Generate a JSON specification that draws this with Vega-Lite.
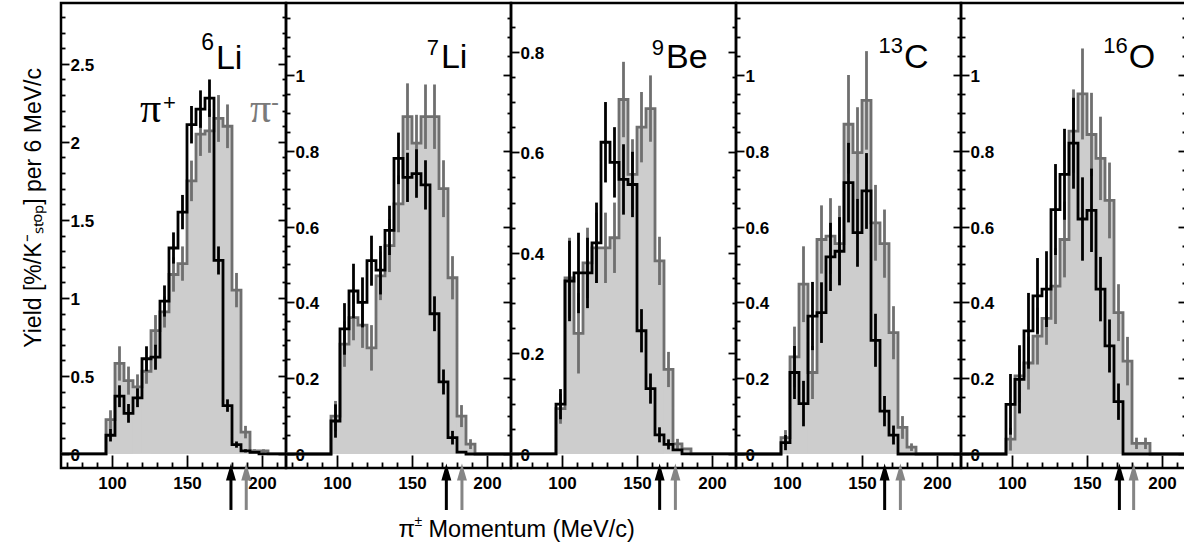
{
"$schema": "https://vega.github.io/schema/vega-lite/v6.json",
"background": "white",
"padding": {"left": 21, "top": 1, "right": 0, "bottom": 0},
"spacing": 0,
"bounds": "flush",
"config": {
  "view": {"stroke": "#000000", "strokeWidth": 2.5},
  "axis": {"domain": false, "grid": false, "tickColor": "#000000", "tickWidth": 1.8, "labelFont": "Liberation Sans", "labelFontWeight": "bold", "labelFontSize": 17, "labelColor": "#000000", "titleFont": "Liberation Sans", "titleFontWeight": "normal", "titleColor": "#000000"},
  "text": {"font": "Liberation Sans"}
},
"datasets": {
"h": [
{"n":"6Li","p":57,"m":0,"me":0,"pl":0,"ple":0},
{"n":"6Li","p":93,"m":0,"me":0,"pl":0,"ple":0},
{"n":"6Li","p":99,"m":0.22,"me":0.06,"pl":0.12,"ple":0.04},
{"n":"6Li","p":105,"m":0.58,"me":0.11,"pl":0.37,"ple":0.07},
{"n":"6Li","p":111,"m":0.47,"me":0.09,"pl":0.26,"ple":0.06},
{"n":"6Li","p":117,"m":0.43,"me":0.08,"pl":0.36,"ple":0.06},
{"n":"6Li","p":123,"m":0.53,"me":0.08,"pl":0.61,"ple":0.08},
{"n":"6Li","p":129,"m":0.79,"me":0.1,"pl":0.62,"ple":0.08},
{"n":"6Li","p":135,"m":0.91,"me":0.1,"pl":0.98,"ple":0.1},
{"n":"6Li","p":141,"m":1.15,"me":0.11,"pl":1.32,"ple":0.1},
{"n":"6Li","p":147,"m":1.22,"me":0.11,"pl":1.55,"ple":0.11},
{"n":"6Li","p":153,"m":1.75,"me":0.13,"pl":2.11,"ple":0.12},
{"n":"6Li","p":159,"m":2.05,"me":0.14,"pl":2.21,"ple":0.12},
{"n":"6Li","p":165,"m":2.07,"me":0.14,"pl":2.28,"ple":0.12},
{"n":"6Li","p":171,"m":2.15,"me":0.15,"pl":1.24,"ple":0.09},
{"n":"6Li","p":177,"m":2.1,"me":0.14,"pl":0.31,"ple":0.04},
{"n":"6Li","p":183,"m":1.05,"me":0.11,"pl":0.06,"ple":0.02},
{"n":"6Li","p":189,"m":0.14,"me":0.04,"pl":0.02,"ple":0.01},
{"n":"6Li","p":195,"m":0.02,"me":0.01,"pl":0.01,"ple":0},
{"n":"6Li","p":201,"m":0.02,"me":0.01,"pl":0,"ple":0},
{"n":"6Li","p":207,"m":0,"me":0,"pl":0,"ple":0},
{"n":"6Li","p":225,"m":0,"me":0,"pl":0,"ple":0},
{"n":"7Li","p":57,"m":0,"me":0,"pl":0,"ple":0},
{"n":"7Li","p":93,"m":0,"me":0,"pl":0,"ple":0},
{"n":"7Li","p":99,"m":0.1,"me":0.04,"pl":0.087,"ple":0.044},
{"n":"7Li","p":105,"m":0.29,"me":0.06,"pl":0.33,"ple":0.068},
{"n":"7Li","p":111,"m":0.36,"me":0.06,"pl":0.43,"ple":0.072},
{"n":"7Li","p":117,"m":0.34,"me":0.06,"pl":0.4,"ple":0.066},
{"n":"7Li","p":123,"m":0.28,"me":0.06,"pl":0.51,"ple":0.066},
{"n":"7Li","p":129,"m":0.47,"me":0.064,"pl":0.485,"ple":0.064},
{"n":"7Li","p":135,"m":0.55,"me":0.07,"pl":0.59,"ple":0.065},
{"n":"7Li","p":141,"m":0.66,"me":0.075,"pl":0.78,"ple":0.068},
{"n":"7Li","p":147,"m":0.89,"me":0.088,"pl":0.73,"ple":0.065},
{"n":"7Li","p":153,"m":0.82,"me":0.075,"pl":0.74,"ple":0.064},
{"n":"7Li","p":159,"m":0.89,"me":0.085,"pl":0.71,"ple":0.065},
{"n":"7Li","p":165,"m":0.89,"me":0.085,"pl":0.37,"ple":0.046},
{"n":"7Li","p":171,"m":0.7,"me":0.075,"pl":0.19,"ple":0.033},
{"n":"7Li","p":177,"m":0.465,"me":0.057,"pl":0.043,"ple":0.018},
{"n":"7Li","p":183,"m":0.1,"me":0.029,"pl":0.005,"ple":0},
{"n":"7Li","p":189,"m":0.026,"me":0.013,"pl":0,"ple":0},
{"n":"7Li","p":195,"m":0,"me":0,"pl":0,"ple":0},
{"n":"7Li","p":225,"m":0,"me":0,"pl":0,"ple":0},
{"n":"9Be","p":57,"m":0,"me":0,"pl":0,"ple":0},
{"n":"9Be","p":93,"m":0,"me":0,"pl":0,"ple":0},
{"n":"9Be","p":99,"m":0.09,"me":0.03,"pl":0.099,"ple":0.03},
{"n":"9Be","p":105,"m":0.35,"me":0.08,"pl":0.344,"ple":0.08},
{"n":"9Be","p":111,"m":0.24,"me":0.08,"pl":0.36,"ple":0.08},
{"n":"9Be","p":117,"m":0.38,"me":0.07,"pl":0.36,"ple":0.07},
{"n":"9Be","p":123,"m":0.41,"me":0.07,"pl":0.42,"ple":0.08},
{"n":"9Be","p":129,"m":0.41,"me":0.07,"pl":0.62,"ple":0.08},
{"n":"9Be","p":135,"m":0.43,"me":0.07,"pl":0.58,"ple":0.07},
{"n":"9Be","p":141,"m":0.705,"me":0.075,"pl":0.546,"ple":0.07},
{"n":"9Be","p":147,"m":0.556,"me":0.07,"pl":0.536,"ple":0.065},
{"n":"9Be","p":153,"m":0.65,"me":0.07,"pl":0.245,"ple":0.043},
{"n":"9Be","p":159,"m":0.687,"me":0.066,"pl":0.13,"ple":0.03},
{"n":"9Be","p":165,"m":0.384,"me":0.048,"pl":0.038,"ple":0.015},
{"n":"9Be","p":171,"m":0.168,"me":0.035,"pl":0.019,"ple":0.01},
{"n":"9Be","p":177,"m":0.02,"me":0.01,"pl":0.008,"ple":0},
{"n":"9Be","p":183,"m":0.01,"me":0,"pl":0,"ple":0},
{"n":"9Be","p":189,"m":0,"me":0,"pl":0,"ple":0},
{"n":"9Be","p":225,"m":0,"me":0,"pl":0,"ple":0},
{"n":"13C","p":57,"m":0,"me":0,"pl":0,"ple":0},
{"n":"13C","p":93,"m":0,"me":0,"pl":0,"ple":0},
{"n":"13C","p":99,"m":0.043,"me":0.02,"pl":0.03,"ple":0.02},
{"n":"13C","p":105,"m":0.256,"me":0.08,"pl":0.215,"ple":0.07},
{"n":"13C","p":111,"m":0.448,"me":0.1,"pl":0.133,"ple":0.06},
{"n":"13C","p":117,"m":0.215,"me":0.07,"pl":0.364,"ple":0.09},
{"n":"13C","p":123,"m":0.566,"me":0.09,"pl":0.373,"ple":0.08},
{"n":"13C","p":129,"m":0.575,"me":0.1,"pl":0.52,"ple":0.09},
{"n":"13C","p":135,"m":0.555,"me":0.1,"pl":0.535,"ple":0.09},
{"n":"13C","p":141,"m":0.87,"me":0.13,"pl":0.716,"ple":0.105},
{"n":"13C","p":147,"m":0.795,"me":0.12,"pl":0.584,"ple":0.09},
{"n":"13C","p":153,"m":0.933,"me":0.13,"pl":0.694,"ple":0.1},
{"n":"13C","p":159,"m":0.61,"me":0.1,"pl":0.3,"ple":0.07},
{"n":"13C","p":165,"m":0.555,"me":0.09,"pl":0.113,"ple":0.04},
{"n":"13C","p":171,"m":0.32,"me":0.07,"pl":0.05,"ple":0.025},
{"n":"13C","p":177,"m":0.07,"me":0.03,"pl":0,"ple":0},
{"n":"13C","p":183,"m":0.018,"me":0.01,"pl":0,"ple":0},
{"n":"13C","p":189,"m":0,"me":0,"pl":0,"ple":0},
{"n":"13C","p":225,"m":0,"me":0,"pl":0,"ple":0},
{"n":"16O","p":57,"m":0,"me":0,"pl":0,"ple":0},
{"n":"16O","p":93,"m":0,"me":0,"pl":0,"ple":0},
{"n":"16O","p":99,"m":0.039,"me":0.03,"pl":0.131,"ple":0.08},
{"n":"16O","p":105,"m":0.206,"me":0.07,"pl":0.197,"ple":0.09},
{"n":"16O","p":111,"m":0.24,"me":0.07,"pl":0.325,"ple":0.1},
{"n":"16O","p":117,"m":0.311,"me":0.075,"pl":0.417,"ple":0.1},
{"n":"16O","p":123,"m":0.358,"me":0.07,"pl":0.435,"ple":0.1},
{"n":"16O","p":129,"m":0.443,"me":0.1,"pl":0.645,"ple":0.12},
{"n":"16O","p":135,"m":0.566,"me":0.1,"pl":0.738,"ple":0.12},
{"n":"16O","p":141,"m":0.852,"me":0.11,"pl":0.82,"ple":0.12},
{"n":"16O","p":147,"m":0.95,"me":0.12,"pl":0.62,"ple":0.11},
{"n":"16O","p":153,"m":0.843,"me":0.11,"pl":0.643,"ple":0.11},
{"n":"16O","p":159,"m":0.78,"me":0.11,"pl":0.435,"ple":0.085},
{"n":"16O","p":165,"m":0.669,"me":0.1,"pl":0.285,"ple":0.07},
{"n":"16O","p":171,"m":0.373,"me":0.075,"pl":0.138,"ple":0.048},
{"n":"16O","p":177,"m":0.245,"me":0.064,"pl":0,"ple":0},
{"n":"16O","p":183,"m":0.028,"me":0.015,"pl":0,"ple":0},
{"n":"16O","p":189,"m":0.028,"me":0.015,"pl":0,"ple":0},
{"n":"16O","p":195,"m":0,"me":0,"pl":0,"ple":0},
{"n":"16O","p":225,"m":0,"me":0,"pl":0,"ple":0}
],
"arr": [
{"n":"6Li","s":"+","p":179.3},{"n":"6Li","s":"-","p":189.5},
{"n":"7Li","s":"+","p":172.9},{"n":"7Li","s":"-","p":183.3},
{"n":"9Be","s":"+","p":165.1},{"n":"9Be","s":"-","p":175.6},
{"n":"13C","s":"+","p":165.1},{"n":"13C","s":"-","p":175.6},
{"n":"16O","s":"+","p":171.6},{"n":"16O","s":"-","p":181.1}
]
},
"hconcat": [
{
"width": 225, "height": 465,
"resolve": {"axis": {"x": "independent", "y": "independent"}},
"layer": [
{"data": {"name": "h"}, "transform": [{"filter": "datum.n === '6Li'"}],
 "mark": {"type": "rect", "color": "#cdcdcd", "clip": true, "xOffset": -4.6, "x2Offset": 4.6},
 "encoding": {
  "x": {"field": "p", "type": "quantitative", "scale": {"domain": [66, 216], "nice": false, "zero": false},
   "axis": {"orient": "bottom", "values": [70,80,90,100,110,120,130,140,150,160,170,180,190,200,210], "labelExpr": "datum.value % 50 === 0 ? datum.label : ''", "tickSize": {"condition": {"test": "datum.value % 50 === 0", "value": -13}, "value": -6}, "labelPadding": 28, "labelBaseline": "middle", "labelFontSize": 17, "labelFontWeight": "bold", "labelFlush": false, "labelOverlap": false, "title": null}},
  "x2": {"field": "p"},
  "y": {"field": "m", "type": "quantitative", "scale": {"domain": [-0.09, 2.89], "nice": false, "zero": false},
   "axis": {"orient": "left", "values": [0,0.1,0.2,0.3,0.4,0.5,0.6,0.7,0.8,0.9,1,1.1,1.2,1.3,1.4,1.5,1.6,1.7,1.8,1.9,2,2.1,2.2,2.3,2.4,2.5,2.6,2.7,2.8],
    "labelExpr": "abs(datum.value*2 - round(datum.value*2)) < 0.001 ? '' + datum.value : ''",
    "tickSize": {"condition": {"test": "abs(datum.value*2 - round(datum.value*2)) < 0.001", "value": -8}, "value": -4},
    "labelAlign": "left", "labelPadding": -1, "labelBaseline": "middle", "labelOffset": 1.5, "labelFontSize": 17, "labelFontWeight": "bold", "labelFlush": false, "labelOverlap": false, "title": null}},
  "y2": {"datum": 0}
 }},
{"data": {"name": "h"}, "transform": [{"filter": "datum.n === '6Li'"}],
 "mark": {"type": "line", "interpolate": "step", "color": "#6f6f6f", "strokeWidth": 2.8, "clip": true},
 "encoding": {
  "x": {"field": "p", "type": "quantitative", "scale": {"domain": [66, 216], "nice": false, "zero": false}, "axis": null},
  "y": {"field": "m", "type": "quantitative", "scale": {"domain": [-0.09, 2.89], "nice": false, "zero": false},
   "axis": {"orient": "right", "values": [0,0.1,0.2,0.3,0.4,0.5,0.6,0.7,0.8,0.9,1,1.1,1.2,1.3,1.4,1.5,1.6,1.7,1.8,1.9,2,2.1,2.2,2.3,2.4,2.5,2.6,2.7,2.8], "labels": false, "title": null,
    "tickSize": {"condition": {"test": "abs(datum.value*2 - round(datum.value*2)) < 0.001", "value": -8}, "value": -4}}}
 }},
{"data": {"name": "h"}, "transform": [{"filter": "datum.n === '6Li' && datum.me > 0"}],
 "mark": {"type": "errorbar", "ticks": false, "thickness": 2.8, "color": "#6f6f6f"},
 "encoding": {
  "x": {"field": "p", "type": "quantitative", "scale": {"domain": [66, 216], "nice": false, "zero": false}, "axis": null},
  "y": {"field": "m", "type": "quantitative", "scale": {"domain": [-0.09, 2.89], "nice": false, "zero": false}, "axis": null},
  "yError": {"field": "me"}
 }},
{"data": {"name": "h"}, "transform": [{"filter": "datum.n === '6Li'"}],
 "mark": {"type": "line", "interpolate": "step", "color": "#000000", "strokeWidth": 2.8, "clip": true},
 "encoding": {
  "x": {"field": "p", "type": "quantitative", "scale": {"domain": [66, 216], "nice": false, "zero": false}, "axis": null},
  "y": {"field": "pl", "type": "quantitative", "scale": {"domain": [-0.09, 2.89], "nice": false, "zero": false}, "axis": null}
 }},
{"data": {"name": "h"}, "transform": [{"filter": "datum.n === '6Li' && datum.ple > 0"}],
 "mark": {"type": "errorbar", "ticks": false, "thickness": 2.8, "color": "#000000"},
 "encoding": {
  "x": {"field": "p", "type": "quantitative", "scale": {"domain": [66, 216], "nice": false, "zero": false}, "axis": null},
  "y": {"field": "pl", "type": "quantitative", "scale": {"domain": [-0.09, 2.89], "nice": false, "zero": false}, "axis": null},
  "yError": {"field": "ple"}
 }},
{"data": {"name": "arr"}, "transform": [{"filter": "datum.n === '6Li'"}],
 "mark": {"type": "rule", "strokeWidth": 3, "yOffset": 24, "y2Offset": 56},
 "encoding": {
  "x": {"field": "p", "type": "quantitative", "scale": {"domain": [66, 216], "nice": false, "zero": false}, "axis": null},
  "y": {"datum": 0, "scale": {"domain": [-0.09, 2.89], "nice": false, "zero": false}, "axis": null},
  "y2": {"datum": 0},
  "color": {"field": "s", "type": "nominal", "scale": {"domain": ["+", "-"], "range": ["#000000", "#858585"]}, "legend": null}
 }},
{"data": {"name": "arr"}, "transform": [{"filter": "datum.n === '6Li'"}],
 "mark": {"type": "point", "shape": "M-1,1.7L0,-1.7L1,1.7Z", "filled": true, "size": 100, "opacity": 1, "yOffset": 18},
 "encoding": {
  "x": {"field": "p", "type": "quantitative", "scale": {"domain": [66, 216], "nice": false, "zero": false}, "axis": null},
  "y": {"datum": 0, "scale": {"domain": [-0.09, 2.89], "nice": false, "zero": false}, "axis": null},
  "color": {"field": "s", "type": "nominal", "scale": {"domain": ["+", "-"], "range": ["#000000", "#858585"]}, "legend": null}
 }},
{"data": {"values": [{}]},
 "mark": {"type": "text", "fontSize": 23, "angle": 270, "align": "center", "baseline": "middle", "color": "#000000"},
 "encoding": {
  "x": {"datum": 47.7, "scale": {"domain": [66, 216], "nice": false, "zero": false}, "axis": null},
  "y": {"datum": 1.577, "scale": {"domain": [-0.09, 2.89], "nice": false, "zero": false}, "axis": null},
  "text": {"value": "Yield [%/K⁻ₛₜₒₚ] per 6 MeV/c"}
 }},
{"data": {"values": [{}]},
 "mark": {"type": "text", "fontSize": 24, "align": "left", "baseline": "middle", "color": "#000000"},
 "encoding": {
  "x": {"datum": 291, "scale": {"domain": [66, 216], "nice": false, "zero": false}, "axis": null},
  "y": {"datum": -0.49, "scale": {"domain": [-0.09, 2.89], "nice": false, "zero": false}, "axis": null},
  "text": {"value": "π"}
 }},
{"data": {"values": [{}]},
 "mark": {"type": "text", "fontSize": 14, "align": "left", "baseline": "middle", "dx": 16, "dy": -8, "color": "#000000"},
 "encoding": {
  "x": {"datum": 291, "scale": {"domain": [66, 216], "nice": false, "zero": false}, "axis": null},
  "y": {"datum": -0.49, "scale": {"domain": [-0.09, 2.89], "nice": false, "zero": false}, "axis": null},
  "text": {"value": "±"}
 }},
{"data": {"values": [{}]},
 "mark": {"type": "text", "fontSize": 23.5, "align": "left", "baseline": "middle", "dx": 30, "color": "#000000"},
 "encoding": {
  "x": {"datum": 291, "scale": {"domain": [66, 216], "nice": false, "zero": false}, "axis": null},
  "y": {"datum": -0.49, "scale": {"domain": [-0.09, 2.89], "nice": false, "zero": false}, "axis": null},
  "text": {"value": "Momentum (MeV/c)"}
 }},
{"data": {"values": [{}]},
 "mark": {"type": "text", "fontSize": 34, "align": "left", "baseline": "alphabetic", "color": "#000000"},
 "encoding": {
  "x": {"datum": 169.3, "scale": {"domain": [66, 216], "nice": false, "zero": false}, "axis": null},
  "y": {"datum": 2.465, "scale": {"domain": [-0.09, 2.89], "nice": false, "zero": false}, "axis": null},
  "text": {"value": "Li"}
 }},
{"data": {"values": [{}]},
 "mark": {"type": "text", "fontSize": 23, "align": "right", "baseline": "alphabetic", "dx": -2, "dy": -19, "color": "#000000"},
 "encoding": {
  "x": {"datum": 169.3, "scale": {"domain": [66, 216], "nice": false, "zero": false}, "axis": null},
  "y": {"datum": 2.465, "scale": {"domain": [-0.09, 2.89], "nice": false, "zero": false}, "axis": null},
  "text": {"value": "6"}
 }},
{"data": {"values": [{}]},
 "mark": {"type": "text", "fontSize": 42, "font": "Liberation Serif", "align": "left", "baseline": "alphabetic", "color": "#000000"},
 "encoding": {
  "x": {"datum": 118.7, "scale": {"domain": [66, 216], "nice": false, "zero": false}, "axis": null},
  "y": {"datum": 2.127, "scale": {"domain": [-0.09, 2.89], "nice": false, "zero": false}, "axis": null},
  "text": {"value": "π"}
 }},
{"data": {"values": [{}]},
 "mark": {"type": "text", "fontSize": 22, "align": "left", "baseline": "alphabetic", "dx": 23, "dy": -12, "color": "#000000"},
 "encoding": {
  "x": {"datum": 118.7, "scale": {"domain": [66, 216], "nice": false, "zero": false}, "axis": null},
  "y": {"datum": 2.127, "scale": {"domain": [-0.09, 2.89], "nice": false, "zero": false}, "axis": null},
  "text": {"value": "+"}
 }},
{"data": {"values": [{}]},
 "mark": {"type": "text", "fontSize": 42, "font": "Liberation Serif", "align": "left", "baseline": "alphabetic", "color": "#7a7a7a"},
 "encoding": {
  "x": {"datum": 192, "scale": {"domain": [66, 216], "nice": false, "zero": false}, "axis": null},
  "y": {"datum": 2.127, "scale": {"domain": [-0.09, 2.89], "nice": false, "zero": false}, "axis": null},
  "text": {"value": "π"}
 }},
{"data": {"values": [{}]},
 "mark": {"type": "text", "fontSize": 24, "align": "left", "baseline": "alphabetic", "dx": 21, "dy": -12, "color": "#7a7a7a"},
 "encoding": {
  "x": {"datum": 192, "scale": {"domain": [66, 216], "nice": false, "zero": false}, "axis": null},
  "y": {"datum": 2.127, "scale": {"domain": [-0.09, 2.89], "nice": false, "zero": false}, "axis": null},
  "text": {"value": "-"}
 }}
]
},
{
"width": 225, "height": 465,
"resolve": {"axis": {"x": "independent", "y": "independent"}},
"layer": [
{"data": {"name": "h"}, "transform": [{"filter": "datum.n === '7Li'"}],
 "mark": {"type": "rect", "color": "#cdcdcd", "clip": true, "xOffset": -4.6, "x2Offset": 4.6},
 "encoding": {
  "x": {"field": "p", "type": "quantitative", "scale": {"domain": [66, 216], "nice": false, "zero": false},
   "axis": {"orient": "bottom", "values": [70,80,90,100,110,120,130,140,150,160,170,180,190,200,210], "labelExpr": "datum.value % 50 === 0 ? datum.label : ''", "tickSize": {"condition": {"test": "datum.value % 50 === 0", "value": -13}, "value": -6}, "labelPadding": 28, "labelBaseline": "middle", "labelFontSize": 17, "labelFontWeight": "bold", "labelFlush": false, "labelOverlap": false, "title": null}},
  "x2": {"field": "p"},
  "y": {"field": "m", "type": "quantitative", "scale": {"domain": [-0.037, 1.19], "nice": false, "zero": false},
   "axis": {"orient": "left", "values": [0,0.05,0.1,0.15,0.2,0.25,0.3,0.35,0.4,0.45,0.5,0.55,0.6,0.65,0.7,0.75,0.8,0.85,0.9,0.95,1,1.05,1.1,1.15],
    "labelExpr": "abs(datum.value*5 - round(datum.value*5)) < 0.001 ? '' + datum.value : ''",
    "tickSize": {"condition": {"test": "abs(datum.value*5 - round(datum.value*5)) < 0.001", "value": -8}, "value": -4},
    "labelAlign": "left", "labelPadding": -1, "labelBaseline": "middle", "labelOffset": 1.5, "labelFontSize": 17, "labelFontWeight": "bold", "labelFlush": false, "labelOverlap": false, "title": null}},
  "y2": {"datum": 0}
 }},
{"data": {"name": "h"}, "transform": [{"filter": "datum.n === '7Li'"}],
 "mark": {"type": "line", "interpolate": "step", "color": "#6f6f6f", "strokeWidth": 2.8, "clip": true},
 "encoding": {
  "x": {"field": "p", "type": "quantitative", "scale": {"domain": [66, 216], "nice": false, "zero": false}, "axis": null},
  "y": {"field": "m", "type": "quantitative", "scale": {"domain": [-0.037, 1.19], "nice": false, "zero": false},
   "axis": {"orient": "right", "values": [0,0.05,0.1,0.15,0.2,0.25,0.3,0.35,0.4,0.45,0.5,0.55,0.6,0.65,0.7,0.75,0.8,0.85,0.9,0.95,1,1.05,1.1,1.15], "labels": false, "title": null,
    "tickSize": {"condition": {"test": "abs(datum.value*5 - round(datum.value*5)) < 0.001", "value": -8}, "value": -4}}}
 }},
{"data": {"name": "h"}, "transform": [{"filter": "datum.n === '7Li' && datum.me > 0"}],
 "mark": {"type": "errorbar", "ticks": false, "thickness": 2.8, "color": "#6f6f6f"},
 "encoding": {
  "x": {"field": "p", "type": "quantitative", "scale": {"domain": [66, 216], "nice": false, "zero": false}, "axis": null},
  "y": {"field": "m", "type": "quantitative", "scale": {"domain": [-0.037, 1.19], "nice": false, "zero": false}, "axis": null},
  "yError": {"field": "me"}
 }},
{"data": {"name": "h"}, "transform": [{"filter": "datum.n === '7Li'"}],
 "mark": {"type": "line", "interpolate": "step", "color": "#000000", "strokeWidth": 2.8, "clip": true},
 "encoding": {
  "x": {"field": "p", "type": "quantitative", "scale": {"domain": [66, 216], "nice": false, "zero": false}, "axis": null},
  "y": {"field": "pl", "type": "quantitative", "scale": {"domain": [-0.037, 1.19], "nice": false, "zero": false}, "axis": null}
 }},
{"data": {"name": "h"}, "transform": [{"filter": "datum.n === '7Li' && datum.ple > 0"}],
 "mark": {"type": "errorbar", "ticks": false, "thickness": 2.8, "color": "#000000"},
 "encoding": {
  "x": {"field": "p", "type": "quantitative", "scale": {"domain": [66, 216], "nice": false, "zero": false}, "axis": null},
  "y": {"field": "pl", "type": "quantitative", "scale": {"domain": [-0.037, 1.19], "nice": false, "zero": false}, "axis": null},
  "yError": {"field": "ple"}
 }},
{"data": {"name": "arr"}, "transform": [{"filter": "datum.n === '7Li'"}],
 "mark": {"type": "rule", "strokeWidth": 3, "yOffset": 24, "y2Offset": 56},
 "encoding": {
  "x": {"field": "p", "type": "quantitative", "scale": {"domain": [66, 216], "nice": false, "zero": false}, "axis": null},
  "y": {"datum": 0, "scale": {"domain": [-0.037, 1.19], "nice": false, "zero": false}, "axis": null},
  "y2": {"datum": 0},
  "color": {"field": "s", "type": "nominal", "scale": {"domain": ["+", "-"], "range": ["#000000", "#858585"]}, "legend": null}
 }},
{"data": {"name": "arr"}, "transform": [{"filter": "datum.n === '7Li'"}],
 "mark": {"type": "point", "shape": "M-1,1.7L0,-1.7L1,1.7Z", "filled": true, "size": 100, "opacity": 1, "yOffset": 18},
 "encoding": {
  "x": {"field": "p", "type": "quantitative", "scale": {"domain": [66, 216], "nice": false, "zero": false}, "axis": null},
  "y": {"datum": 0, "scale": {"domain": [-0.037, 1.19], "nice": false, "zero": false}, "axis": null},
  "color": {"field": "s", "type": "nominal", "scale": {"domain": ["+", "-"], "range": ["#000000", "#858585"]}, "legend": null}
 }},
{"data": {"values": [{}]},
 "mark": {"type": "text", "fontSize": 34, "align": "left", "baseline": "alphabetic", "color": "#000000"},
 "encoding": {
  "x": {"datum": 169.3, "scale": {"domain": [66, 216], "nice": false, "zero": false}, "axis": null},
  "y": {"datum": 1.019, "scale": {"domain": [-0.037, 1.19], "nice": false, "zero": false}, "axis": null},
  "text": {"value": "Li"}
 }},
{"data": {"values": [{}]},
 "mark": {"type": "text", "fontSize": 22, "align": "right", "baseline": "alphabetic", "dx": -2, "dy": -13, "color": "#000000"},
 "encoding": {
  "x": {"datum": 169.3, "scale": {"domain": [66, 216], "nice": false, "zero": false}, "axis": null},
  "y": {"datum": 1.019, "scale": {"domain": [-0.037, 1.19], "nice": false, "zero": false}, "axis": null},
  "text": {"value": "7"}
 }}
]
},
{
"width": 225, "height": 465,
"resolve": {"axis": {"x": "independent", "y": "independent"}},
"layer": [
{"data": {"name": "h"}, "transform": [{"filter": "datum.n === '9Be'"}],
 "mark": {"type": "rect", "color": "#cdcdcd", "clip": true, "xOffset": -4.6, "x2Offset": 4.6},
 "encoding": {
  "x": {"field": "p", "type": "quantitative", "scale": {"domain": [66, 216], "nice": false, "zero": false},
   "axis": {"orient": "bottom", "values": [70,80,90,100,110,120,130,140,150,160,170,180,190,200,210], "labelExpr": "datum.value % 50 === 0 ? datum.label : ''", "tickSize": {"condition": {"test": "datum.value % 50 === 0", "value": -13}, "value": -6}, "labelPadding": 28, "labelBaseline": "middle", "labelFontSize": 17, "labelFontWeight": "bold", "labelFlush": false, "labelOverlap": false, "title": null}},
  "x2": {"field": "p"},
  "y": {"field": "m", "type": "quantitative", "scale": {"domain": [-0.028, 0.897], "nice": false, "zero": false},
   "axis": {"orient": "left", "values": [0,0.05,0.1,0.15,0.2,0.25,0.3,0.35,0.4,0.45,0.5,0.55,0.6,0.65,0.7,0.75,0.8,0.85],
    "labelExpr": "abs(datum.value*5 - round(datum.value*5)) < 0.001 ? '' + datum.value : ''",
    "tickSize": {"condition": {"test": "abs(datum.value*5 - round(datum.value*5)) < 0.001", "value": -8}, "value": -4},
    "labelAlign": "left", "labelPadding": -1, "labelBaseline": "middle", "labelOffset": 1.5, "labelFontSize": 17, "labelFontWeight": "bold", "labelFlush": false, "labelOverlap": false, "title": null}},
  "y2": {"datum": 0}
 }},
{"data": {"name": "h"}, "transform": [{"filter": "datum.n === '9Be'"}],
 "mark": {"type": "line", "interpolate": "step", "color": "#6f6f6f", "strokeWidth": 2.8, "clip": true},
 "encoding": {
  "x": {"field": "p", "type": "quantitative", "scale": {"domain": [66, 216], "nice": false, "zero": false}, "axis": null},
  "y": {"field": "m", "type": "quantitative", "scale": {"domain": [-0.028, 0.897], "nice": false, "zero": false},
   "axis": {"orient": "right", "values": [0,0.05,0.1,0.15,0.2,0.25,0.3,0.35,0.4,0.45,0.5,0.55,0.6,0.65,0.7,0.75,0.8,0.85], "labels": false, "title": null,
    "tickSize": {"condition": {"test": "abs(datum.value*5 - round(datum.value*5)) < 0.001", "value": -8}, "value": -4}}}
 }},
{"data": {"name": "h"}, "transform": [{"filter": "datum.n === '9Be' && datum.me > 0"}],
 "mark": {"type": "errorbar", "ticks": false, "thickness": 2.8, "color": "#6f6f6f"},
 "encoding": {
  "x": {"field": "p", "type": "quantitative", "scale": {"domain": [66, 216], "nice": false, "zero": false}, "axis": null},
  "y": {"field": "m", "type": "quantitative", "scale": {"domain": [-0.028, 0.897], "nice": false, "zero": false}, "axis": null},
  "yError": {"field": "me"}
 }},
{"data": {"name": "h"}, "transform": [{"filter": "datum.n === '9Be'"}],
 "mark": {"type": "line", "interpolate": "step", "color": "#000000", "strokeWidth": 2.8, "clip": true},
 "encoding": {
  "x": {"field": "p", "type": "quantitative", "scale": {"domain": [66, 216], "nice": false, "zero": false}, "axis": null},
  "y": {"field": "pl", "type": "quantitative", "scale": {"domain": [-0.028, 0.897], "nice": false, "zero": false}, "axis": null}
 }},
{"data": {"name": "h"}, "transform": [{"filter": "datum.n === '9Be' && datum.ple > 0"}],
 "mark": {"type": "errorbar", "ticks": false, "thickness": 2.8, "color": "#000000"},
 "encoding": {
  "x": {"field": "p", "type": "quantitative", "scale": {"domain": [66, 216], "nice": false, "zero": false}, "axis": null},
  "y": {"field": "pl", "type": "quantitative", "scale": {"domain": [-0.028, 0.897], "nice": false, "zero": false}, "axis": null},
  "yError": {"field": "ple"}
 }},
{"data": {"name": "arr"}, "transform": [{"filter": "datum.n === '9Be'"}],
 "mark": {"type": "rule", "strokeWidth": 3, "yOffset": 24, "y2Offset": 56},
 "encoding": {
  "x": {"field": "p", "type": "quantitative", "scale": {"domain": [66, 216], "nice": false, "zero": false}, "axis": null},
  "y": {"datum": 0, "scale": {"domain": [-0.028, 0.897], "nice": false, "zero": false}, "axis": null},
  "y2": {"datum": 0},
  "color": {"field": "s", "type": "nominal", "scale": {"domain": ["+", "-"], "range": ["#000000", "#858585"]}, "legend": null}
 }},
{"data": {"name": "arr"}, "transform": [{"filter": "datum.n === '9Be'"}],
 "mark": {"type": "point", "shape": "M-1,1.7L0,-1.7L1,1.7Z", "filled": true, "size": 100, "opacity": 1, "yOffset": 18},
 "encoding": {
  "x": {"field": "p", "type": "quantitative", "scale": {"domain": [66, 216], "nice": false, "zero": false}, "axis": null},
  "y": {"datum": 0, "scale": {"domain": [-0.028, 0.897], "nice": false, "zero": false}, "axis": null},
  "color": {"field": "s", "type": "nominal", "scale": {"domain": ["+", "-"], "range": ["#000000", "#858585"]}, "legend": null}
 }},
{"data": {"values": [{}]},
 "mark": {"type": "text", "fontSize": 34, "align": "left", "baseline": "alphabetic", "color": "#000000"},
 "encoding": {
  "x": {"datum": 169.3, "scale": {"domain": [66, 216], "nice": false, "zero": false}, "axis": null},
  "y": {"datum": 0.768, "scale": {"domain": [-0.028, 0.897], "nice": false, "zero": false}, "axis": null},
  "text": {"value": "Be"}
 }},
{"data": {"values": [{}]},
 "mark": {"type": "text", "fontSize": 22, "align": "right", "baseline": "alphabetic", "dx": -2, "dy": -13, "color": "#000000"},
 "encoding": {
  "x": {"datum": 169.3, "scale": {"domain": [66, 216], "nice": false, "zero": false}, "axis": null},
  "y": {"datum": 0.768, "scale": {"domain": [-0.028, 0.897], "nice": false, "zero": false}, "axis": null},
  "text": {"value": "9"}
 }}
]
},
{
"width": 225, "height": 465,
"resolve": {"axis": {"x": "independent", "y": "independent"}},
"layer": [
{"data": {"name": "h"}, "transform": [{"filter": "datum.n === '13C'"}],
 "mark": {"type": "rect", "color": "#cdcdcd", "clip": true, "xOffset": -4.6, "x2Offset": 4.6},
 "encoding": {
  "x": {"field": "p", "type": "quantitative", "scale": {"domain": [66, 216], "nice": false, "zero": false},
   "axis": {"orient": "bottom", "values": [70,80,90,100,110,120,130,140,150,160,170,180,190,200,210], "labelExpr": "datum.value % 50 === 0 ? datum.label : ''", "tickSize": {"condition": {"test": "datum.value % 50 === 0", "value": -13}, "value": -6}, "labelPadding": 28, "labelBaseline": "middle", "labelFontSize": 17, "labelFontWeight": "bold", "labelFlush": false, "labelOverlap": false, "title": null}},
  "x2": {"field": "p"},
  "y": {"field": "m", "type": "quantitative", "scale": {"domain": [-0.037, 1.19], "nice": false, "zero": false},
   "axis": {"orient": "left", "values": [0,0.05,0.1,0.15,0.2,0.25,0.3,0.35,0.4,0.45,0.5,0.55,0.6,0.65,0.7,0.75,0.8,0.85,0.9,0.95,1,1.05,1.1,1.15],
    "labelExpr": "abs(datum.value*5 - round(datum.value*5)) < 0.001 ? '' + datum.value : ''",
    "tickSize": {"condition": {"test": "abs(datum.value*5 - round(datum.value*5)) < 0.001", "value": -8}, "value": -4},
    "labelAlign": "left", "labelPadding": -1, "labelBaseline": "middle", "labelOffset": 1.5, "labelFontSize": 17, "labelFontWeight": "bold", "labelFlush": false, "labelOverlap": false, "title": null}},
  "y2": {"datum": 0}
 }},
{"data": {"name": "h"}, "transform": [{"filter": "datum.n === '13C'"}],
 "mark": {"type": "line", "interpolate": "step", "color": "#6f6f6f", "strokeWidth": 2.8, "clip": true},
 "encoding": {
  "x": {"field": "p", "type": "quantitative", "scale": {"domain": [66, 216], "nice": false, "zero": false}, "axis": null},
  "y": {"field": "m", "type": "quantitative", "scale": {"domain": [-0.037, 1.19], "nice": false, "zero": false},
   "axis": {"orient": "right", "values": [0,0.05,0.1,0.15,0.2,0.25,0.3,0.35,0.4,0.45,0.5,0.55,0.6,0.65,0.7,0.75,0.8,0.85,0.9,0.95,1,1.05,1.1,1.15], "labels": false, "title": null,
    "tickSize": {"condition": {"test": "abs(datum.value*5 - round(datum.value*5)) < 0.001", "value": -8}, "value": -4}}}
 }},
{"data": {"name": "h"}, "transform": [{"filter": "datum.n === '13C' && datum.me > 0"}],
 "mark": {"type": "errorbar", "ticks": false, "thickness": 2.8, "color": "#6f6f6f"},
 "encoding": {
  "x": {"field": "p", "type": "quantitative", "scale": {"domain": [66, 216], "nice": false, "zero": false}, "axis": null},
  "y": {"field": "m", "type": "quantitative", "scale": {"domain": [-0.037, 1.19], "nice": false, "zero": false}, "axis": null},
  "yError": {"field": "me"}
 }},
{"data": {"name": "h"}, "transform": [{"filter": "datum.n === '13C'"}],
 "mark": {"type": "line", "interpolate": "step", "color": "#000000", "strokeWidth": 2.8, "clip": true},
 "encoding": {
  "x": {"field": "p", "type": "quantitative", "scale": {"domain": [66, 216], "nice": false, "zero": false}, "axis": null},
  "y": {"field": "pl", "type": "quantitative", "scale": {"domain": [-0.037, 1.19], "nice": false, "zero": false}, "axis": null}
 }},
{"data": {"name": "h"}, "transform": [{"filter": "datum.n === '13C' && datum.ple > 0"}],
 "mark": {"type": "errorbar", "ticks": false, "thickness": 2.8, "color": "#000000"},
 "encoding": {
  "x": {"field": "p", "type": "quantitative", "scale": {"domain": [66, 216], "nice": false, "zero": false}, "axis": null},
  "y": {"field": "pl", "type": "quantitative", "scale": {"domain": [-0.037, 1.19], "nice": false, "zero": false}, "axis": null},
  "yError": {"field": "ple"}
 }},
{"data": {"name": "arr"}, "transform": [{"filter": "datum.n === '13C'"}],
 "mark": {"type": "rule", "strokeWidth": 3, "yOffset": 24, "y2Offset": 56},
 "encoding": {
  "x": {"field": "p", "type": "quantitative", "scale": {"domain": [66, 216], "nice": false, "zero": false}, "axis": null},
  "y": {"datum": 0, "scale": {"domain": [-0.037, 1.19], "nice": false, "zero": false}, "axis": null},
  "y2": {"datum": 0},
  "color": {"field": "s", "type": "nominal", "scale": {"domain": ["+", "-"], "range": ["#000000", "#858585"]}, "legend": null}
 }},
{"data": {"name": "arr"}, "transform": [{"filter": "datum.n === '13C'"}],
 "mark": {"type": "point", "shape": "M-1,1.7L0,-1.7L1,1.7Z", "filled": true, "size": 100, "opacity": 1, "yOffset": 18},
 "encoding": {
  "x": {"field": "p", "type": "quantitative", "scale": {"domain": [66, 216], "nice": false, "zero": false}, "axis": null},
  "y": {"datum": 0, "scale": {"domain": [-0.037, 1.19], "nice": false, "zero": false}, "axis": null},
  "color": {"field": "s", "type": "nominal", "scale": {"domain": ["+", "-"], "range": ["#000000", "#858585"]}, "legend": null}
 }},
{"data": {"values": [{}]},
 "mark": {"type": "text", "fontSize": 34, "align": "left", "baseline": "alphabetic", "color": "#000000"},
 "encoding": {
  "x": {"datum": 178, "scale": {"domain": [66, 216], "nice": false, "zero": false}, "axis": null},
  "y": {"datum": 1.019, "scale": {"domain": [-0.037, 1.19], "nice": false, "zero": false}, "axis": null},
  "text": {"value": "C"}
 }},
{"data": {"values": [{}]},
 "mark": {"type": "text", "fontSize": 22, "align": "right", "baseline": "alphabetic", "dx": -1, "dy": -15, "color": "#000000"},
 "encoding": {
  "x": {"datum": 178, "scale": {"domain": [66, 216], "nice": false, "zero": false}, "axis": null},
  "y": {"datum": 1.019, "scale": {"domain": [-0.037, 1.19], "nice": false, "zero": false}, "axis": null},
  "text": {"value": "13"}
 }}
]
},
{
"width": 225, "height": 465,
"resolve": {"axis": {"x": "independent", "y": "independent"}},
"layer": [
{"data": {"name": "h"}, "transform": [{"filter": "datum.n === '16O'"}],
 "mark": {"type": "rect", "color": "#cdcdcd", "clip": true, "xOffset": -4.6, "x2Offset": 4.6},
 "encoding": {
  "x": {"field": "p", "type": "quantitative", "scale": {"domain": [66, 216], "nice": false, "zero": false},
   "axis": {"orient": "bottom", "values": [70,80,90,100,110,120,130,140,150,160,170,180,190,200,210], "labelExpr": "datum.value % 50 === 0 ? datum.label : ''", "tickSize": {"condition": {"test": "datum.value % 50 === 0", "value": -13}, "value": -6}, "labelPadding": 28, "labelBaseline": "middle", "labelFontSize": 17, "labelFontWeight": "bold", "labelFlush": false, "labelOverlap": false, "title": null}},
  "x2": {"field": "p"},
  "y": {"field": "m", "type": "quantitative", "scale": {"domain": [-0.037, 1.19], "nice": false, "zero": false},
   "axis": {"orient": "left", "values": [0,0.05,0.1,0.15,0.2,0.25,0.3,0.35,0.4,0.45,0.5,0.55,0.6,0.65,0.7,0.75,0.8,0.85,0.9,0.95,1,1.05,1.1,1.15],
    "labelExpr": "abs(datum.value*5 - round(datum.value*5)) < 0.001 ? '' + datum.value : ''",
    "tickSize": {"condition": {"test": "abs(datum.value*5 - round(datum.value*5)) < 0.001", "value": -8}, "value": -4},
    "labelAlign": "left", "labelPadding": -1, "labelBaseline": "middle", "labelOffset": 1.5, "labelFontSize": 17, "labelFontWeight": "bold", "labelFlush": false, "labelOverlap": false, "title": null}},
  "y2": {"datum": 0}
 }},
{"data": {"name": "h"}, "transform": [{"filter": "datum.n === '16O'"}],
 "mark": {"type": "line", "interpolate": "step", "color": "#6f6f6f", "strokeWidth": 2.8, "clip": true},
 "encoding": {
  "x": {"field": "p", "type": "quantitative", "scale": {"domain": [66, 216], "nice": false, "zero": false}, "axis": null},
  "y": {"field": "m", "type": "quantitative", "scale": {"domain": [-0.037, 1.19], "nice": false, "zero": false},
   "axis": {"orient": "right", "values": [0,0.05,0.1,0.15,0.2,0.25,0.3,0.35,0.4,0.45,0.5,0.55,0.6,0.65,0.7,0.75,0.8,0.85,0.9,0.95,1,1.05,1.1,1.15], "labels": false, "title": null,
    "tickSize": {"condition": {"test": "abs(datum.value*5 - round(datum.value*5)) < 0.001", "value": -8}, "value": -4}}}
 }},
{"data": {"name": "h"}, "transform": [{"filter": "datum.n === '16O' && datum.me > 0"}],
 "mark": {"type": "errorbar", "ticks": false, "thickness": 2.8, "color": "#6f6f6f"},
 "encoding": {
  "x": {"field": "p", "type": "quantitative", "scale": {"domain": [66, 216], "nice": false, "zero": false}, "axis": null},
  "y": {"field": "m", "type": "quantitative", "scale": {"domain": [-0.037, 1.19], "nice": false, "zero": false}, "axis": null},
  "yError": {"field": "me"}
 }},
{"data": {"name": "h"}, "transform": [{"filter": "datum.n === '16O'"}],
 "mark": {"type": "line", "interpolate": "step", "color": "#000000", "strokeWidth": 2.8, "clip": true},
 "encoding": {
  "x": {"field": "p", "type": "quantitative", "scale": {"domain": [66, 216], "nice": false, "zero": false}, "axis": null},
  "y": {"field": "pl", "type": "quantitative", "scale": {"domain": [-0.037, 1.19], "nice": false, "zero": false}, "axis": null}
 }},
{"data": {"name": "h"}, "transform": [{"filter": "datum.n === '16O' && datum.ple > 0"}],
 "mark": {"type": "errorbar", "ticks": false, "thickness": 2.8, "color": "#000000"},
 "encoding": {
  "x": {"field": "p", "type": "quantitative", "scale": {"domain": [66, 216], "nice": false, "zero": false}, "axis": null},
  "y": {"field": "pl", "type": "quantitative", "scale": {"domain": [-0.037, 1.19], "nice": false, "zero": false}, "axis": null},
  "yError": {"field": "ple"}
 }},
{"data": {"name": "arr"}, "transform": [{"filter": "datum.n === '16O'"}],
 "mark": {"type": "rule", "strokeWidth": 3, "yOffset": 24, "y2Offset": 56},
 "encoding": {
  "x": {"field": "p", "type": "quantitative", "scale": {"domain": [66, 216], "nice": false, "zero": false}, "axis": null},
  "y": {"datum": 0, "scale": {"domain": [-0.037, 1.19], "nice": false, "zero": false}, "axis": null},
  "y2": {"datum": 0},
  "color": {"field": "s", "type": "nominal", "scale": {"domain": ["+", "-"], "range": ["#000000", "#858585"]}, "legend": null}
 }},
{"data": {"name": "arr"}, "transform": [{"filter": "datum.n === '16O'"}],
 "mark": {"type": "point", "shape": "M-1,1.7L0,-1.7L1,1.7Z", "filled": true, "size": 100, "opacity": 1, "yOffset": 18},
 "encoding": {
  "x": {"field": "p", "type": "quantitative", "scale": {"domain": [66, 216], "nice": false, "zero": false}, "axis": null},
  "y": {"datum": 0, "scale": {"domain": [-0.037, 1.19], "nice": false, "zero": false}, "axis": null},
  "color": {"field": "s", "type": "nominal", "scale": {"domain": ["+", "-"], "range": ["#000000", "#858585"]}, "legend": null}
 }},
{"data": {"values": [{}]},
 "mark": {"type": "text", "fontSize": 34, "align": "left", "baseline": "alphabetic", "color": "#000000"},
 "encoding": {
  "x": {"datum": 177.8, "scale": {"domain": [66, 216], "nice": false, "zero": false}, "axis": null},
  "y": {"datum": 1.019, "scale": {"domain": [-0.037, 1.19], "nice": false, "zero": false}, "axis": null},
  "text": {"value": "O"}
 }},
{"data": {"values": [{}]},
 "mark": {"type": "text", "fontSize": 22, "align": "right", "baseline": "alphabetic", "dx": -1, "dy": -15, "color": "#000000"},
 "encoding": {
  "x": {"datum": 177.8, "scale": {"domain": [66, 216], "nice": false, "zero": false}, "axis": null},
  "y": {"datum": 1.019, "scale": {"domain": [-0.037, 1.19], "nice": false, "zero": false}, "axis": null},
  "text": {"value": "16"}
 }}
]
}
]
}
